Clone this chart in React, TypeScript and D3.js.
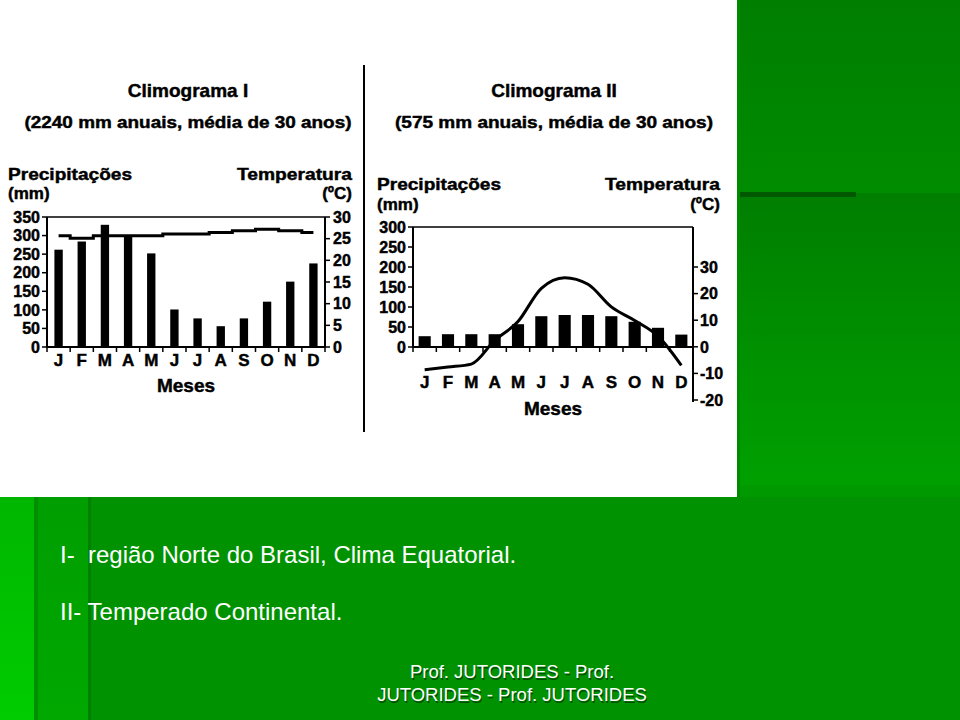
import React from "react";
import * as d3 from "d3";

const months = ["J", "F", "M", "A", "M", "J", "J", "A", "S", "O", "N", "D"];
const precipI = [262, 284, 329, 300, 252, 101, 77, 56, 77, 122, 176, 225];
const tempI = [25.7, 25.1, 25.7, 25.7, 25.7, 26.1, 26.1, 26.45, 26.8, 27.2, 26.8, 26.4];
const precipII = [27, 32, 32, 32, 57, 77, 80, 80, 77, 63, 48, 31];
const tempII = [-8.6, -7.6, -6.5, 2.4, 9.5, 22, 26, 23.5, 15, 9.9, 4, -7];
const precipTicksI = [0, 50, 100, 150, 200, 250, 300, 350];
const tempTicksI = [0, 5, 10, 15, 20, 25, 30];
const precipTicksII = [0, 50, 100, 150, 200, 250, 300];
const tempTicksII = [-20, -10, 0, 10, 20, 30];

const FONT = "'Liberation Sans', Arial, sans-serif";
const HEAVY = { fontFamily: FONT, fontWeight: 700, stroke: "#000", strokeWidth: 0.45 } as const;

type Cfg = {
  left: number; right: number; top: number; zero: number;
  pMax: number; pTicks: number[];
  tDomain: [number, number]; tRange: [number, number]; tTicks: number[];
  precip: number[]; temp: number[];
  barFrac: number; rightAxisBottom: number;
  title: string; subtitle: string; cx: number; titleY: number; subY: number; subLen: number;
  headY: number; head2Y: number; headLeft: number; headRight: number;
  monthY: number; mesesY: number; tLabelX: number; step: boolean;
};

function Climo({ c }: { c: Cfg }) {
  const idx = months.map((_, i) => i);
  const x = d3.scaleBand<number>().domain(idx).range([c.left, c.right]).padding(0);
  const yP = d3.scaleLinear().domain([0, c.pMax]).range([c.zero, c.top]);
  const yT = d3.scaleLinear().domain(c.tDomain).range(c.tRange);
  const bw = x.bandwidth() * c.barFrac;
  const cxm = (i: number) => (x(i) as number) + x.bandwidth() / 2;
  const line = d3
    .line<number>()
    .x((_, i) => cxm(i))
    .y((d) => yT(d))
    .curve(c.step ? d3.curveStep : d3.curveMonotoneX);
  const bounds = d3.range(13).map((i) => c.left + i * x.bandwidth());
  const tick = { ...HEAVY, fontSize: 16 } as const;
  return (
    <g>
      <text x={c.cx} y={c.titleY} textAnchor="middle" {...HEAVY} fontSize={19}>
        {c.title}
      </text>
      <text x={c.cx} y={c.subY} textAnchor="middle" {...HEAVY} fontSize={16.5}
        textLength={c.subLen} lengthAdjust="spacingAndGlyphs">
        {c.subtitle}
      </text>
      <text x={c.headLeft} y={c.headY} {...HEAVY} fontSize={17} textLength={124} lengthAdjust="spacingAndGlyphs">
        Precipitações
      </text>
      <text x={c.headLeft} y={c.head2Y} {...HEAVY} fontSize={17}>
        (mm)
      </text>
      <text x={c.headRight} y={c.headY} textAnchor="end" {...HEAVY} fontSize={17} textLength={115} lengthAdjust="spacingAndGlyphs">
        Temperatura
      </text>
      <text x={c.headRight} y={c.head2Y} textAnchor="end" {...HEAVY} fontSize={17}>
        (ºC)
      </text>
      {/* bars */}
      {c.precip.map((v, i) => (
        <rect key={i} x={cxm(i) - bw / 2} y={yP(v)} width={bw} height={yP(0) - yP(v)} fill="#000" />
      ))}
      {/* axes */}
      <line x1={c.left} x2={c.right} y1={c.top} y2={c.top} stroke="#000" strokeWidth={1.5} />
      <line x1={c.left} x2={c.left} y1={c.top} y2={c.zero} stroke="#000" strokeWidth={2} />
      <line x1={c.right} x2={c.right} y1={c.top} y2={c.rightAxisBottom} stroke="#000" strokeWidth={2} />
      <line x1={c.left} x2={c.right} y1={c.zero} y2={c.zero} stroke="#000" strokeWidth={2} />
      {bounds.map((b, i) => (
        <line key={i} x1={b} x2={b} y1={c.zero} y2={c.zero + 5} stroke="#000" strokeWidth={1.5} />
      ))}
      {c.pTicks.map((t) => (
        <g key={t}>
          <line x1={c.left - 5} x2={c.left} y1={yP(t)} y2={yP(t)} stroke="#000" strokeWidth={1.5} />
          <text x={c.left - 7} y={yP(t)} dy="0.36em" textAnchor="end" {...tick}>
            {t}
          </text>
        </g>
      ))}
      {c.tTicks.map((t) => (
        <g key={t}>
          <line x1={c.right} x2={c.right + 5} y1={yT(t)} y2={yT(t)} stroke="#000" strokeWidth={1.5} />
          <text x={c.tLabelX} y={yT(t)} dy="0.36em" {...tick}>
            {t}
          </text>
        </g>
      ))}
      {/* temperature line */}
      <path d={line(c.temp) || ""} fill="none" stroke="#000" strokeWidth={3} />
      {months.map((m, i) => (
        <text key={i} x={cxm(i)} y={c.monthY} textAnchor="middle" {...HEAVY} fontSize={17}>
          {m}
        </text>
      ))}
      <text x={(c.left + c.right) / 2} y={c.mesesY} textAnchor="middle" {...HEAVY} fontSize={19}>
        Meses
      </text>
    </g>
  );
}

const cfgI: Cfg = {
  left: 47, right: 325, top: 217, zero: 347, pMax: 350, pTicks: precipTicksI,
  tDomain: [0, 30], tRange: [347, 217], tTicks: tempTicksI,
  precip: precipI, temp: tempI, barFrac: 0.36, rightAxisBottom: 347,
  title: "Climograma I", subtitle: "(2240 mm anuais, média de 30 anos)", cx: 188, titleY: 97, subY: 128, subLen: 327,
  headY: 180, head2Y: 199, headLeft: 8, headRight: 352, monthY: 366, mesesY: 392, tLabelX: 333, step: true,
};

const cfgII: Cfg = {
  left: 413, right: 693, top: 227, zero: 347, pMax: 300, pTicks: precipTicksII,
  tDomain: [-20, 30], tRange: [400, 267], tTicks: tempTicksII,
  precip: precipII, temp: tempII, barFrac: 0.52, rightAxisBottom: 402,
  title: "Climograma II", subtitle: "(575 mm anuais, média de 30 anos)", cx: 554, titleY: 97, subY: 128, subLen: 318,
  headY: 190, head2Y: 210, headLeft: 377, headRight: 720, monthY: 388, mesesY: 415, tLabelX: 700, step: false,
};

export default function App() {
  return (
    <svg width={960} height={720} style={{ position: "absolute", left: 0, top: 0 }}>
      <defs>
        <linearGradient id="gTop" x1="0" y1="0" x2="0" y2="1">
          <stop offset="0" stopColor="#007e00" />
          <stop offset="1" stopColor="#008c00" />
        </linearGradient>
        <linearGradient id="gMid" x1="0" y1="0" x2="0" y2="1">
          <stop offset="0" stopColor="#007e00" />
          <stop offset="1" stopColor="#00a000" />
        </linearGradient>
        <linearGradient id="gStrip" x1="0" y1="0" x2="0" y2="1">
          <stop offset="0" stopColor="#00b600" />
          <stop offset="1" stopColor="#00cc00" />
        </linearGradient>
        <linearGradient id="gStrip2" x1="0" y1="0" x2="0" y2="1">
          <stop offset="0" stopColor="#009e00" />
          <stop offset="1" stopColor="#00a800" />
        </linearGradient>
      </defs>
      {/* backgrounds */}
      <rect x={0} y={0} width={960} height={720} fill="#009200" />
      <rect x={737} y={0} width={223} height={193} fill="url(#gTop)" />
      <rect x={737} y={193} width={223} height={292} fill="url(#gMid)" />
      <rect x={737} y={485} width={223} height={12} fill="#009a00" />
      <rect x={737} y={192} width={119} height={5} fill="#005800" />
      <rect x={737} y={0} width={3} height={497} fill="#008a00" />
      <rect x={0} y={497} width={34} height={223} fill="url(#gStrip)" />
      <rect x={34} y={497} width={4} height={223} fill="#008f00" />
      <rect x={38} y={497} width={50} height={223} fill="url(#gStrip2)" />
      <rect x={88} y={497} width={3} height={223} fill="#008000" />
      <rect x={0} y={0} width={737} height={497} fill="#ffffff" />
      {/* separator */}
      <line x1={364} x2={364} y1={65} y2={432} stroke="#000" strokeWidth={2} />
      <Climo c={cfgI} />
      <Climo c={cfgII} />
      {/* slide text */}
      <text x={60} y={563} fill="#ffffff" fontFamily={FONT} fontSize={24} style={{ whiteSpace: "pre" }}>
        {"I-  região Norte do Brasil, Clima Equatorial."}
      </text>
      <text x={60} y={620} fill="#ffffff" fontFamily={FONT} fontSize={24} style={{ whiteSpace: "pre" }}>
        {"II- Temperado Continental."}
      </text>
      {[
        { t: "Prof. JUTORIDES - Prof.", y: 678 },
        { t: "JUTORIDES - Prof. JUTORIDES", y: 701 },
      ].map((d) => (
        <g key={d.t}>
          <text x={513} y={d.y + 1.5} textAnchor="middle" fill="#003300" fillOpacity={0.7} fontFamily={FONT} fontSize={18.5}>
            {d.t}
          </text>
          <text x={512} y={d.y} textAnchor="middle" fill="#ffffff" fontFamily={FONT} fontSize={18.5}>
            {d.t}
          </text>
        </g>
      ))}
    </svg>
  );
}
